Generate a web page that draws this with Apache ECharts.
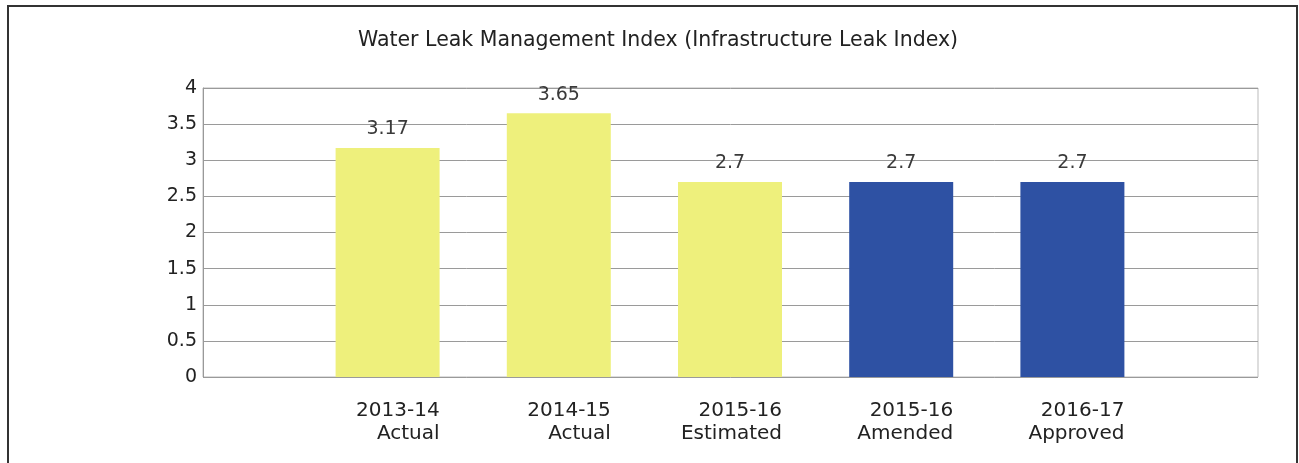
<!DOCTYPE html>
<html>
<head>
<meta charset="utf-8">
<title>Water Leak Management Index</title>
<script src="https://cdn.jsdelivr.net/npm/echarts@6/dist/echarts.min.js"></script>
<style>
    html, body {
        margin: 0;
        padding: 0;
        background: #fff;
    }

    #chart {
        width: 1299px;
        height: 463px;
    }
</style>
</head>
<body>
<div id="chart"></div>
<script>
// 数据
const years = ['2013-14', '2014-15', '2015-16', '2015-16', '2016-17'];
const kinds = ['Actual', 'Actual', 'Estimated', 'Amended', 'Approved'];
const values = [3.17, 3.65, 2.7, 2.7, 2.7];
const barColors = ['#eef07c', '#eef07c', '#eef07c', '#2e51a3', '#2e51a3'];
const yTicks = [0, 0.5, 1, 1.5, 2, 2.5, 3, 3.5, 4];

const categories = years.map((y, i) => y + '\n' + kinds[i]);

const chart = echarts.init(document.getElementById('chart'));

chart.setOption({
    animation: false,
    textStyle: {
        fontFamily: 'DejaVu Sans, Arial, sans-serif'
    },
    title: {
        text: 'Water Leak Management Index (Infrastructure Leak Index)',
        left: 653,
        textAlign: 'center',
        top: 25,
        textStyle: {
            fontFamily: 'DejaVu Sans',
            fontSize: 20.5,
            fontWeight: 'normal',
            color: '#222'
        }
    },
    // 外框
    graphic: [{
        type: 'rect',
        shape: { x: 8, y: 6, width: 1289, height: 470 },
        style: { fill: 'none', stroke: '#333', lineWidth: 2 },
        silent: true
    }],
    grid: [
        // 绘图区外框 + 网格线
        { left: 203, right: 41, top: 88, bottom: 86, show: true, borderColor: '#bbb', borderWidth: 1 },
        // 柱子区域（比绘图区窄）
        { left: 302, right: 141, top: 88, bottom: 86 }
    ],
    xAxis: [
        { type: 'value', gridIndex: 0, show: false, min: 0, max: 1 },
        {
            type: 'category',
            gridIndex: 1,
            data: categories,
            axisLine: { show: false },
            axisTick: { show: false },
            axisLabel: {
                interval: 0,
                margin: 22,
                align: 'center',
                color: '#222',
                fontFamily: 'DejaVu Sans',
                fontSize: 20,
                lineHeight: 23,
                formatter: (v) => {
                    const parts = v.split('\n');
                    return '{a|' + parts[0] + '}\n{a|' + parts[1] + '}';
                },
                rich: {
                    // 每行右对齐，和柱子右边缘齐平
                    a: { width: 104, align: 'right', fontFamily: 'DejaVu Sans', fontSize: 20, lineHeight: 23, color: '#222' }
                }
            }
        }
    ],
    yAxis: [
        {
            type: 'value',
            gridIndex: 0,
            min: yTicks[0],
            max: yTicks[yTicks.length - 1],
            interval: 0.5,
            axisLine: { show: true, lineStyle: { color: '#999' } },
            axisTick: { show: false },
            axisLabel: { fontFamily: 'DejaVu Sans', fontSize: 19, color: '#222', margin: 6 },
            splitLine: { lineStyle: { color: '#9a9a9a', width: 1 } }
        },
        {
            type: 'value',
            gridIndex: 1,
            min: yTicks[0],
            max: yTicks[yTicks.length - 1],
            show: false,
            splitLine: { show: false }
        }
    ],
    series: [{
        type: 'bar',
        xAxisIndex: 1,
        yAxisIndex: 1,
        barWidth: 104,
        data: values.map((v, i) => ({
            value: v,
            itemStyle: { color: barColors[i] }
        })),
        label: {
            show: true,
            position: 'top',
            distance: 9,
            fontFamily: 'DejaVu Sans',
            fontSize: 19,
            color: '#3a3a3a'
        }
    }]
});
</script>
</body>
</html>
